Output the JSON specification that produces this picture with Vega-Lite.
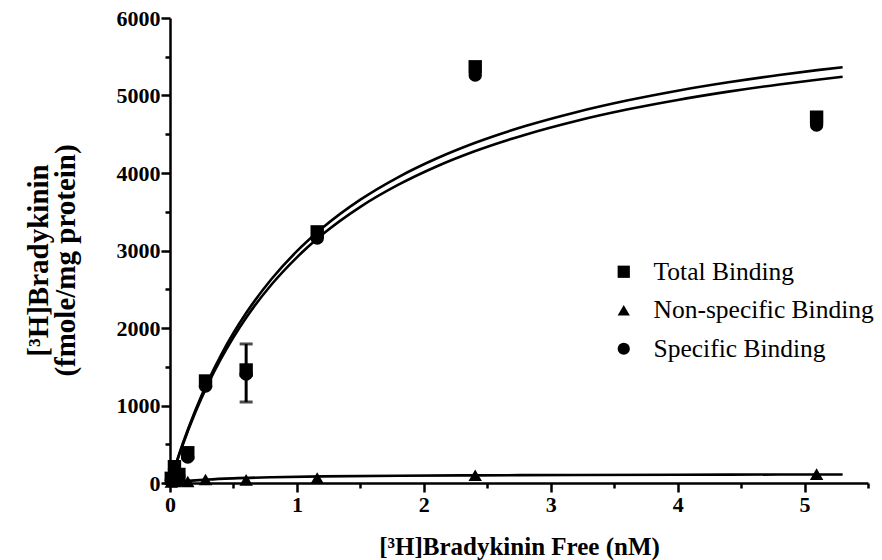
{
  "$schema": "https://vega.github.io/schema/vega-lite/v6.json",
  "width": 698,
  "height": 465,
  "autosize": {"type": "none"},
  "padding": {"left": 170, "top": 18, "right": 14, "bottom": 77},
  "background": "white",
  "config": {
    "view": {"stroke": null},
    "axis": {
      "grid": false,
      "domainColor": "black",
      "domainWidth": 2.5,
      "tickColor": "black",
      "tickWidth": 2.5,
      "labelColor": "black",
      "labelFont": "Liberation Serif",
      "labelFontWeight": "bold",
      "labelFontSize": 22,
      "titleFont": "Liberation Serif",
      "titleFontWeight": "bold",
      "titleFontSize": 25,
      "titleColor": "black"
    },
    "legend": {
      "labelFont": "Liberation Serif",
      "labelFontSize": 25.5,
      "labelColor": "black",
      "labelLimit": 400
    }
  },
  "datasets": {
    "points": [
      {"x": 0.01, "y": 60, "series": "Total Binding"},
      {"x": 0.035, "y": 210, "series": "Total Binding"},
      {"x": 0.07, "y": 110, "series": "Total Binding"},
      {"x": 0.14, "y": 390, "series": "Total Binding"},
      {"x": 0.28, "y": 1316, "series": "Total Binding"},
      {"x": 0.6, "y": 1458, "series": "Total Binding"},
      {"x": 1.16, "y": 3240, "series": "Total Binding"},
      {"x": 2.405, "y": 5370, "series": "Total Binding"},
      {"x": 5.095, "y": 4720, "series": "Total Binding"},
      {"x": 0.01, "y": 15, "series": "Non-specific Binding"},
      {"x": 0.035, "y": 20, "series": "Non-specific Binding"},
      {"x": 0.07, "y": 25, "series": "Non-specific Binding"},
      {"x": 0.14, "y": 20, "series": "Non-specific Binding"},
      {"x": 0.28, "y": 45, "series": "Non-specific Binding"},
      {"x": 0.6, "y": 40, "series": "Non-specific Binding"},
      {"x": 1.16, "y": 65, "series": "Non-specific Binding"},
      {"x": 2.405, "y": 100, "series": "Non-specific Binding"},
      {"x": 5.095, "y": 115, "series": "Non-specific Binding"},
      {"x": 0.01, "y": 40, "series": "Specific Binding"},
      {"x": 0.035, "y": 180, "series": "Specific Binding"},
      {"x": 0.07, "y": 90, "series": "Specific Binding"},
      {"x": 0.14, "y": 335, "series": "Specific Binding"},
      {"x": 0.28, "y": 1250, "series": "Specific Binding"},
      {"x": 0.6, "y": 1406, "series": "Specific Binding"},
      {"x": 1.16, "y": 3160, "series": "Specific Binding"},
      {"x": 2.405, "y": 5265, "series": "Specific Binding"},
      {"x": 5.095, "y": 4620, "series": "Specific Binding"}
    ],
    "errors": [
      {"x": 0.6, "lo": 1045, "hi": 1794}
    ],
    "curves": [
      {"x": 0, "y": 0, "curve": "total"},
      {"x": 0.02, "y": 108, "curve": "total"},
      {"x": 0.05, "y": 263, "curve": "total"},
      {"x": 0.1, "y": 506, "curve": "total"},
      {"x": 0.2, "y": 940, "curve": "total"},
      {"x": 0.3, "y": 1316, "curve": "total"},
      {"x": 0.4, "y": 1645, "curve": "total"},
      {"x": 0.5, "y": 1935, "curve": "total"},
      {"x": 0.6, "y": 2193, "curve": "total"},
      {"x": 0.8, "y": 2632, "curve": "total"},
      {"x": 1.0, "y": 2991, "curve": "total"},
      {"x": 1.2, "y": 3290, "curve": "total"},
      {"x": 1.5, "y": 3656, "curve": "total"},
      {"x": 1.8, "y": 3948, "curve": "total"},
      {"x": 2.1, "y": 4187, "curve": "total"},
      {"x": 2.4, "y": 4387, "curve": "total"},
      {"x": 2.8, "y": 4606, "curve": "total"},
      {"x": 3.2, "y": 4785, "curve": "total"},
      {"x": 3.6, "y": 4935, "curve": "total"},
      {"x": 4.0, "y": 5062, "curve": "total"},
      {"x": 4.4, "y": 5170, "curve": "total"},
      {"x": 4.8, "y": 5264, "curve": "total"},
      {"x": 5.1, "y": 5327, "curve": "total"},
      {"x": 5.3, "y": 5365, "curve": "total"},
      {"x": 0, "y": 0, "curve": "specific"},
      {"x": 0.02, "y": 105, "curve": "specific"},
      {"x": 0.05, "y": 255, "curve": "specific"},
      {"x": 0.1, "y": 491, "curve": "specific"},
      {"x": 0.2, "y": 912, "curve": "specific"},
      {"x": 0.3, "y": 1278, "curve": "specific"},
      {"x": 0.4, "y": 1598, "curve": "specific"},
      {"x": 0.5, "y": 1881, "curve": "specific"},
      {"x": 0.6, "y": 2133, "curve": "specific"},
      {"x": 0.8, "y": 2561, "curve": "specific"},
      {"x": 1.0, "y": 2912, "curve": "specific"},
      {"x": 1.2, "y": 3205, "curve": "specific"},
      {"x": 1.5, "y": 3563, "curve": "specific"},
      {"x": 1.8, "y": 3849, "curve": "specific"},
      {"x": 2.1, "y": 4084, "curve": "specific"},
      {"x": 2.4, "y": 4280, "curve": "specific"},
      {"x": 2.8, "y": 4495, "curve": "specific"},
      {"x": 3.2, "y": 4672, "curve": "specific"},
      {"x": 3.6, "y": 4819, "curve": "specific"},
      {"x": 4.0, "y": 4943, "curve": "specific"},
      {"x": 4.4, "y": 5050, "curve": "specific"},
      {"x": 4.8, "y": 5143, "curve": "specific"},
      {"x": 5.1, "y": 5204, "curve": "specific"},
      {"x": 5.3, "y": 5242, "curve": "specific"},
      {"x": 0, "y": 0, "curve": "nonspecific"},
      {"x": 0.05, "y": 11, "curve": "nonspecific"},
      {"x": 0.1, "y": 20, "curve": "nonspecific"},
      {"x": 0.2, "y": 34, "curve": "nonspecific"},
      {"x": 0.3, "y": 45, "curve": "nonspecific"},
      {"x": 0.5, "y": 60, "curve": "nonspecific"},
      {"x": 0.8, "y": 74, "curve": "nonspecific"},
      {"x": 1.2, "y": 85, "curve": "nonspecific"},
      {"x": 1.8, "y": 94, "curve": "nonspecific"},
      {"x": 2.4, "y": 99, "curve": "nonspecific"},
      {"x": 3.2, "y": 104, "curve": "nonspecific"},
      {"x": 4.0, "y": 107, "curve": "nonspecific"},
      {"x": 4.8, "y": 109, "curve": "nonspecific"},
      {"x": 5.3, "y": 110, "curve": "nonspecific"}
    ]
  },
  "encoding": {
    "x": {
      "field": "x",
      "type": "quantitative",
      "scale": {"domain": [0, 5.5], "nice": false, "zero": false},
      "axis": {
        "values": [0, 0.5, 1, 1.5, 2, 2.5, 3, 3.5, 4, 4.5, 5, 5.5],
        "labelExpr": "datum.value % 1 === 0 ? format(datum.value, 'd') : ''",
        "tickSize": {"condition": {"test": "datum.value % 1 === 0", "value": 9}, "value": 5},
        "labelPadding": 2,
        "labelFlush": false,
        "title": "[³H]Bradykinin Free (nM)",
        "titleY": 71,
        "titleBaseline": "alphabetic"
      }
    },
    "y": {
      "field": "y",
      "type": "quantitative",
      "scale": {"domain": [0, 6000], "nice": false},
      "axis": {
        "values": [0, 500, 1000, 1500, 2000, 2500, 3000, 3500, 4000, 4500, 5000, 5500, 6000],
        "labelExpr": "datum.value % 1000 === 0 ? format(datum.value, 'd') : ''",
        "tickSize": {"condition": {"test": "datum.value % 1000 === 0", "value": 9}, "value": 5},
        "labelPadding": 1,
        "labelFlush": false,
        "title": ["[³H]Bradykinin", "(fmole/mg protein)"],
        "titleFontSize": 29,
        "titleAngle": -90,
        "titleX": -132,
        "titleY": 242,
        "titleAlign": "center",
        "titleBaseline": "middle",
        "titleLineHeight": 27
      }
    }
  },
  "layer": [
    {
      "data": {"name": "curves"},
      "mark": {"type": "line", "color": "black", "strokeWidth": 2.6, "interpolate": "monotone"},
      "encoding": {"detail": {"field": "curve"}}
    },
    {
      "data": {"name": "errors"},
      "mark": {"type": "rule", "color": "black", "strokeWidth": 3},
      "encoding": {"y": {"field": "lo", "type": "quantitative"}, "y2": {"field": "hi"}}
    },
    {
      "data": {"name": "errors"},
      "mark": {"type": "tick", "color": "black", "orient": "horizontal", "size": 13, "thickness": 3},
      "encoding": {"y": {"field": "lo", "type": "quantitative"}}
    },
    {
      "data": {"name": "errors"},
      "mark": {"type": "tick", "color": "black", "orient": "horizontal", "size": 13, "thickness": 3},
      "encoding": {"y": {"field": "hi", "type": "quantitative"}}
    },
    {
      "data": {"name": "points"},
      "mark": {"type": "point", "filled": true, "color": "black", "opacity": 1, "size": 180},
      "encoding": {
        "shape": {
          "field": "series",
          "type": "nominal",
          "scale": {
            "domain": ["Total Binding", "Non-specific Binding", "Specific Binding"],
            "range": ["square", "triangle-up", "circle"]
          },
          "legend": {
            "title": null,
            "orient": "none",
            "legendX": 441,
            "legendY": 241,
            "padding": 0,
            "symbolFillColor": "black",
            "symbolStrokeColor": "black",
            "symbolSize": 150,
            "labelOffset": 17,
            "rowPadding": 11.5
          }
        }
      }
    }
  ]
}
